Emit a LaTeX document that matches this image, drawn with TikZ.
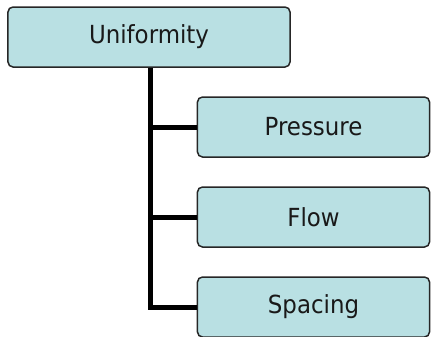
\documentclass[tikz,border=0pt]{standalone}
\usepackage{fontspec}
\setmainfont{DejaVu Sans}[FakeStretch=0.92]
\begin{document}
\begin{tikzpicture}[x=1bp,y=-1bp,
  box/.style={draw=black!85, line width=1.5bp, fill=boxfill, rounded corners=5bp,
    minimum height=60bp, inner sep=0pt, font=\fontsize{25}{29}\selectfont, text=black!90},
  link/.style={line width=5bp, black}]
  \definecolor{boxfill}{HTML}{B9E0E3}
  \useasboundingbox (0,0) rectangle (431,337);
  \node[box, minimum width=282bp] (top) at (149,37) {Uniformity};
  \node[box, minimum width=232bp] (p) at (313.5,127) {Pressure};
  \node[box, minimum width=232bp] (f) at (313.5,217) {Flow};
  \node[box, minimum width=232bp] (s) at (313.5,307) {Spacing};
  % trunk from the top box down to the last child, with a branch to each child
  \coordinate (trunk) at ([xshift=1bp]top.south);
  \draw[link] (trunk) |- (s.west);
  \draw[link] (trunk) |- (p.west);
  \draw[link] (trunk) |- (f.west);
\end{tikzpicture}
\end{document}
